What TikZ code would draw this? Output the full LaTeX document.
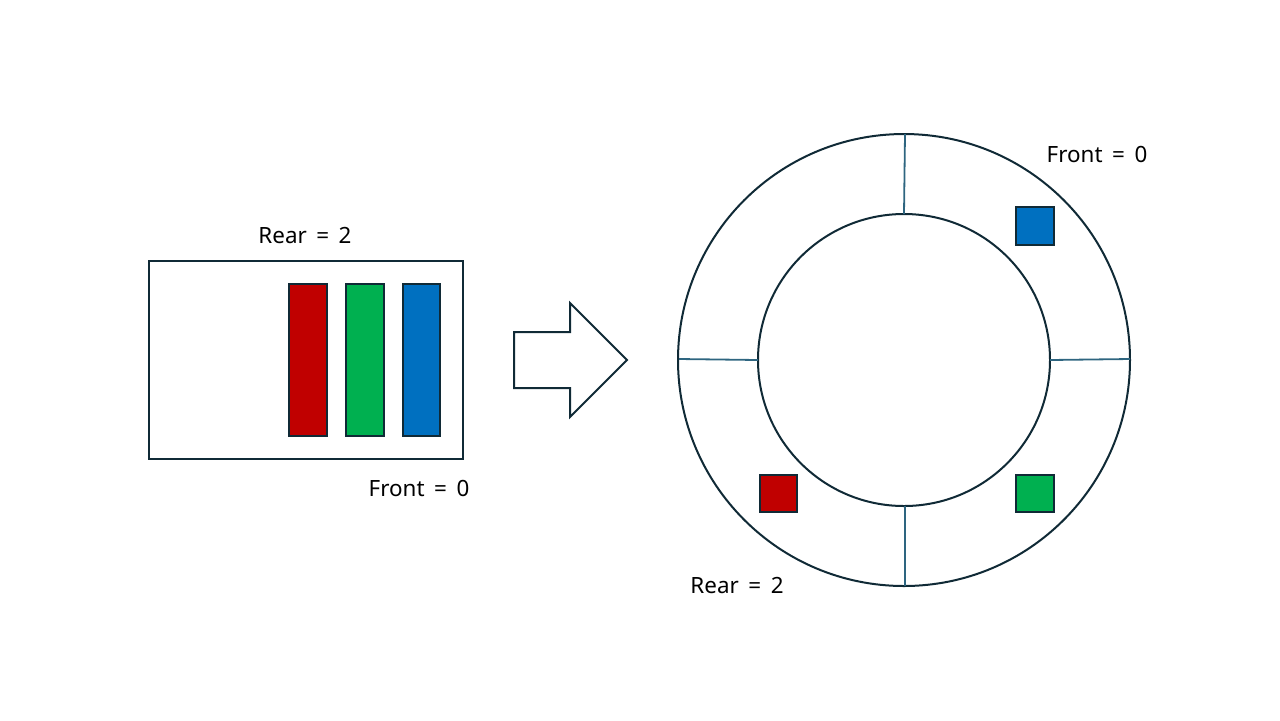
\documentclass[tikz,border=0pt]{standalone}
\usepackage{fontspec}
\setmainfont{Noto Sans}
\definecolor{outl}{HTML}{102A36}
\definecolor{spoke}{HTML}{2E6580}
\definecolor{qred}{HTML}{C00000}
\definecolor{qgreen}{HTML}{00B050}
\definecolor{qblue}{HTML}{0070C0}
\begin{document}
\begin{tikzpicture}[x=0.5pt,y=-0.5pt,
  box/.style={draw=outl,line width=1pt},
  item/.style={draw=outl,line width=1pt},
  lbl/.style={font=\fontsize{11.2}{13}\selectfont,inner sep=0pt},
  spk/.style={draw=spoke,line width=0.9pt}]
\useasboundingbox (0,0) rectangle (1280,720);
% linear queue
\draw[box] (149,261) rectangle (463,459);
\draw[item,fill=qred] (289,284) rectangle (327,436);
\draw[item,fill=qgreen] (346,284) rectangle (384,436);
\draw[item,fill=qblue] (403,284) rectangle (440,436);
\node[lbl] (rear1) at (305,235) {Rear\, =\, 2};
\node[lbl] (front1) at (419,488) {Front\, =\, 0};
% block arrow
\draw[box,line join=miter] (514,332) -- (570,332) -- (570,303) -- (627,360) -- (570,417) -- (570,388) -- (514,388) -- cycle;
% circular queue
\coordinate (c) at (904,360);
\draw[box] (c) circle[radius=226];
\draw[box] (c) circle[radius=146];
\draw[spk] (905,134) -- (904,214);
\draw[spk] (679,359) -- (758,360);
\draw[spk] (1050,360) -- (1130,359);
\draw[spk] (905,506) -- (905,586);
\draw[item,fill=qblue] (1016,207) rectangle (1054,245);
\draw[item,fill=qred] (760,475) rectangle (797,512);
\draw[item,fill=qgreen] (1016,475) rectangle (1054,512);
\node[lbl] (front2) at (1097,154) {Front\, =\, 0};
\node[lbl] (rear2) at (737,585) {Rear\, =\, 2};
\end{tikzpicture}
\end{document}
